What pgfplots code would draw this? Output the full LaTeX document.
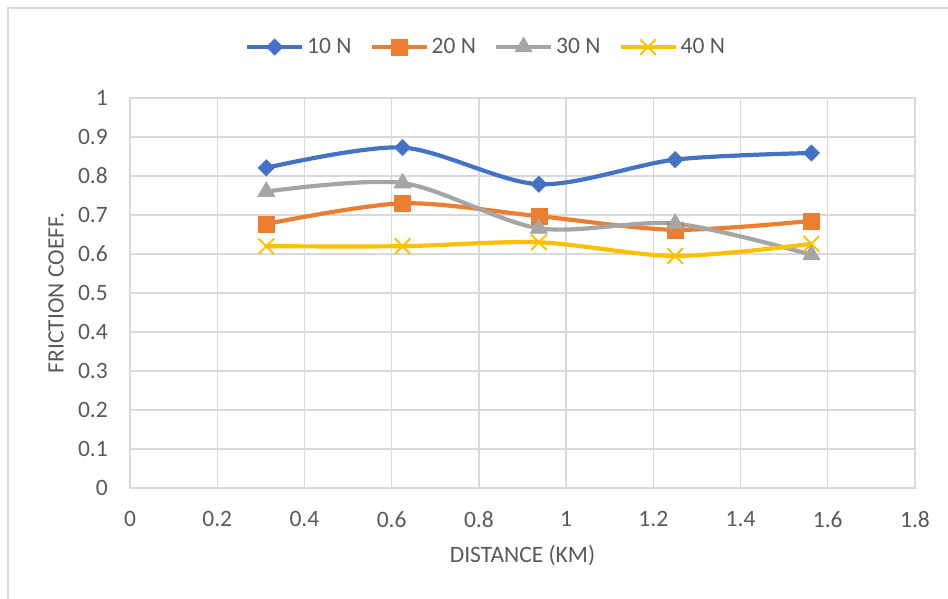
\documentclass[border=0pt]{standalone}
\usepackage{fontspec}
\setmainfont{Carlito}
\usepackage{pgfplots}
\pgfplotsset{compat=1.18}

\definecolor{c10}{HTML}{4472C4}
\definecolor{c20}{HTML}{ED7D31}
\definecolor{c30}{HTML}{A5A5A5}
\definecolor{c40}{HTML}{FFC000}
\definecolor{gridgrey}{HTML}{D9D9D9}
\definecolor{txt}{HTML}{595959}

\newcommand{\chartfont}{\fontsize{23.5}{28}\selectfont}

\begin{document}
\begin{tikzpicture}[x=1pt,y=1pt]
\useasboundingbox (0,0) rectangle (948,-598);
% chart area frame
\draw[gridgrey, line width=2pt] (8,-600) -- (8,-8) -- (950,-8);
\begin{axis}[
  at={(130pt,-488pt)}, anchor=south west,
  width=785pt, height=390pt, scale only axis,
  xmin=0, xmax=1.8, ymin=0, ymax=1,
  xtick={0,0.2,0.4,0.6,0.8,1,1.2,1.4,1.6,1.8},
  ytick={0,0.1,0.2,0.3,0.4,0.5,0.6,0.7,0.8,0.9,1},
  /pgf/number format/assume math mode=true,
  /pgf/number format/fixed,
  xmajorgrids, ymajorgrids,
  grid style={gridgrey, line width=1.3pt},
  axis line style={gridgrey, line width=1.3pt},
  major tick length=0pt,
  tick label style={font=\chartfont, text=txt, inner sep=0pt},
  yticklabel style={anchor=east, xshift=-22pt},
  xticklabel style={anchor=north, yshift=-23pt},
  label style={font=\chartfont, text=txt},
  xlabel={DISTANCE (KM)},
  ylabel={FRICTION COEFF.},
  xlabel style={at={(axis description cs:0.5,-0.172)}, anchor=center},
  ylabel style={at={(axis description cs:-0.094,0.5)}, anchor=center},
  legend columns=4,
  legend style={at={(axis description cs:0.4541,1.1308)}, anchor=center,
    draw=none, fill=none, font=\chartfont, text=txt,
    /tikz/every even column/.append style={column sep=15pt},
    nodes={inner sep=3pt}},
  legend image code/.code={%
    \draw[#1, mark repeat=2, mark phase=2]
      plot coordinates {(0pt,0pt) (27.5pt,0pt) (55pt,0pt)};},
  every axis plot/.append style={line width=4.2pt, smooth, tension=0.5},
]
% 10 N
\addplot[color=c10, mark=square*,
  mark options={solid, rotate=45, line width=0.5pt, fill=c10}, mark size=5.8pt]
  coordinates {(0.3125,0.821) (0.625,0.873) (0.9375,0.779) (1.25,0.842) (1.5625,0.859)};
\addlegendentry{10 N}
% 20 N
\addplot[color=c20, mark=square*,
  mark options={solid, line width=0.5pt, fill=c20}, mark size=8pt]
  coordinates {(0.3125,0.677) (0.625,0.730) (0.9375,0.697) (1.25,0.662) (1.5625,0.685)};
\addlegendentry{20 N}
% 30 N
\addplot[color=c30, mark=triangle*,
  mark options={solid, line width=0.5pt, fill=c30}, mark size=10pt]
  coordinates {(0.3125,0.760) (0.625,0.782) (0.9375,0.666) (1.25,0.678) (1.5625,0.598)};
\addlegendentry{30 N}
% 40 N
\addplot[color=c40, mark=x,
  mark options={solid, line width=2pt}, mark size=11pt]
  coordinates {(0.3125,0.620) (0.625,0.620) (0.9375,0.630) (1.25,0.595) (1.5625,0.626)};
\addlegendentry{40 N}
\end{axis}
\end{tikzpicture}
\end{document}
